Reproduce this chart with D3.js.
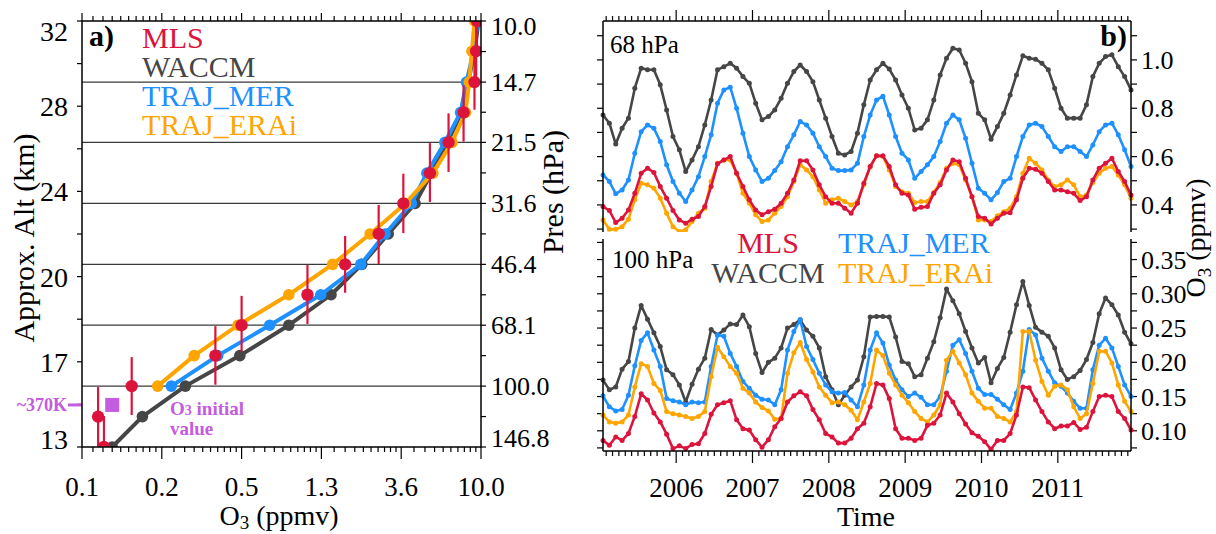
<!DOCTYPE html>
<html>
<head>
<meta charset="utf-8">
<script src="https://cdn.jsdelivr.net/npm/d3@7"></script>
<style>
  body { margin: 0; background: #fff; }
  svg { display: block; font-family: "Liberation Serif", "Times New Roman", serif; }
</style>
</head>
<body>
<div id="chart"></div>
<script>
// ---------------- data ----------------
const seriesKeys = ['MLS', 'WACCM', 'TRAJ_MER', 'TRAJ_ERAi'];
const seriesColor = { MLS: '#dc143c', WACCM: '#464646', TRAJ_MER: '#1e90ff', TRAJ_ERAi: '#ffa500' };

// panel a : ozone profile vs pressure
const ozTicks    = [0.1, 0.2, 0.5, 1.3, 3.6, 10.0];
const presTicks  = [10.0, 14.7, 21.5, 31.6, 46.4, 68.1, 100.0, 146.8];
const altLabels  = [32, 28, 24, 20, 17, 13];
const presLevels = [10.0, 12.1, 14.7, 17.8, 21.5, 26.1, 31.6, 38.3, 46.4, 56.2, 68.1, 82.5, 100.0, 121.2, 146.8];
const profMLS    = [9.5, 9.4, 9.2, 8.0, 6.6, 5.2, 3.7, 2.7, 1.76, 1.10, 0.50, 0.37, 0.154, 0.115, 0.121];
const profWACCM  = [9.7, 9.2, 8.5, 7.8, 6.5, 5.3, 4.3, 3.05, 2.18, 1.47, 0.88, 0.49, 0.262, 0.169, 0.130];
const profMER    = [9.6, 9.1, 8.3, 7.7, 6.3, 5.0, 4.1, 2.93, 2.15, 1.29, 0.70, 0.38, 0.223];
const profERAi   = [9.2, 8.9, 8.6, 8.2, 6.9, 5.4, 3.8, 2.42, 1.50, 0.88, 0.48, 0.29, 0.193];
// MLS vertical extent (hPa) drawn as bars
const mlsBarTop  = [8.3, 10.25, 12.4, 15.0, 17.9, 21.6, 26.2, 31.9, 38.8, 46.6, 56.6, 68.5, 83.3, 100.6, 120.8];
const mlsBarBot  = [12.0, 14.3, 17.5, 21.4, 25.9, 31.3, 38.1, 46.3, 55.5, 67.6, 80.4, 99.1, 120.0, 146.0, 175.0];
const initValue  = 0.13;   // ppmv
const initPres   = 112.6;  // hPa (~370K)

// panel b : monthly time series 2005-2011
const startYear  = 2005;
const yearTicks  = [2006, 2007, 2008, 2009, 2010, 2011];
const mls68 = [0.393,0.377,0.327,0.345,0.379,0.448,0.531,0.552,0.534,0.476,0.428,0.377,
  0.338,0.324,0.341,0.352,0.393,0.476,0.570,0.586,0.600,0.531,0.476,0.421,
  0.379,0.359,0.372,0.382,0.407,0.448,0.503,0.583,0.583,0.545,0.483,0.434,
  0.407,0.407,0.386,0.366,0.407,0.490,0.559,0.603,0.603,0.559,0.483,0.448,
  0.441,0.382,0.390,0.393,0.448,0.483,0.545,0.586,0.579,0.510,0.434,0.352,
  0.345,0.321,0.345,0.366,0.368,0.421,0.510,0.552,0.548,0.531,0.497,0.462,
  0.462,0.455,0.448,0.418,0.434,0.503,0.552,0.572,0.593,0.538,0.497,0.441];
const waccm68 = [0.772,0.738,0.652,0.717,0.759,0.883,0.966,0.959,0.959,0.897,0.793,0.683,
  0.628,0.538,0.586,0.641,0.731,0.834,0.959,0.972,0.986,0.966,0.931,0.903,
  0.821,0.752,0.766,0.793,0.841,0.903,0.952,0.979,0.952,0.910,0.834,0.759,
  0.683,0.614,0.607,0.621,0.697,0.814,0.917,0.959,0.986,0.962,0.917,0.855,
  0.800,0.710,0.717,0.752,0.834,0.938,1.007,1.048,1.041,0.986,0.910,0.779,
  0.752,0.672,0.724,0.779,0.855,0.938,1.017,1.007,1.003,0.986,0.959,0.883,
  0.800,0.759,0.759,0.759,0.814,0.931,0.986,1.014,1.021,0.972,0.931,0.876];
const mer68 = [0.524,0.497,0.446,0.462,0.503,0.614,0.703,0.731,0.717,0.662,0.566,0.497,
  0.448,0.414,0.462,0.517,0.600,0.690,0.821,0.876,0.887,0.800,0.697,0.600,
  0.545,0.497,0.510,0.542,0.579,0.641,0.690,0.745,0.731,0.697,0.641,0.600,
  0.552,0.542,0.542,0.545,0.572,0.683,0.772,0.834,0.850,0.772,0.683,0.614,
  0.586,0.510,0.538,0.566,0.600,0.662,0.738,0.772,0.752,0.676,0.572,0.469,
  0.448,0.421,0.451,0.497,0.510,0.600,0.683,0.731,0.738,0.724,0.683,0.641,
  0.621,0.641,0.641,0.621,0.600,0.648,0.703,0.731,0.738,0.690,0.628,0.559];
const erai68 = [0.338,0.299,0.299,0.310,0.341,0.421,0.490,0.483,0.469,0.428,0.366,0.310,
  0.290,0.297,0.331,0.366,0.386,0.497,0.572,0.586,0.586,0.531,0.448,0.407,
  0.359,0.331,0.338,0.366,0.393,0.434,0.497,0.566,0.545,0.517,0.462,0.407,
  0.421,0.428,0.414,0.400,0.414,0.483,0.559,0.603,0.600,0.545,0.476,0.455,
  0.448,0.410,0.414,0.414,0.451,0.493,0.552,0.572,0.566,0.503,0.434,0.338,
  0.338,0.331,0.355,0.372,0.386,0.434,0.531,0.593,0.572,0.545,0.503,0.476,
  0.483,0.503,0.483,0.434,0.441,0.493,0.531,0.552,0.559,0.524,0.483,0.428];
const mls100 = [0.086,0.079,0.091,0.086,0.096,0.121,0.154,0.145,0.126,0.113,0.095,0.074,
  0.078,0.074,0.080,0.081,0.096,0.124,0.138,0.141,0.144,0.116,0.103,0.101,
  0.087,0.076,0.087,0.106,0.118,0.142,0.151,0.157,0.151,0.131,0.116,0.096,
  0.091,0.082,0.082,0.089,0.103,0.111,0.135,0.169,0.167,0.147,0.103,0.089,
  0.089,0.086,0.089,0.108,0.111,0.123,0.155,0.142,0.125,0.110,0.097,0.092,
  0.084,0.073,0.086,0.086,0.096,0.123,0.164,0.163,0.145,0.128,0.113,0.103,
  0.107,0.107,0.112,0.102,0.105,0.128,0.150,0.152,0.150,0.128,0.118,0.101];
const waccm100 = [0.174,0.160,0.164,0.190,0.201,0.250,0.283,0.263,0.243,0.223,0.189,0.182,
  0.167,0.142,0.168,0.190,0.206,0.248,0.240,0.247,0.256,0.255,0.269,0.252,
  0.213,0.185,0.200,0.206,0.221,0.250,0.255,0.262,0.247,0.238,0.221,0.179,
  0.160,0.138,0.152,0.164,0.174,0.208,0.266,0.267,0.267,0.266,0.237,0.201,
  0.198,0.179,0.182,0.206,0.230,0.265,0.307,0.290,0.271,0.245,0.221,0.199,
  0.207,0.170,0.191,0.207,0.244,0.284,0.318,0.283,0.251,0.244,0.238,0.221,
  0.189,0.175,0.179,0.188,0.204,0.229,0.271,0.294,0.284,0.269,0.244,0.227];
const mer100 = [0.151,0.135,0.129,0.131,0.152,0.195,0.232,0.243,0.218,0.194,0.147,0.144,
  0.142,0.138,0.142,0.141,0.142,0.194,0.240,0.238,0.213,0.194,0.172,0.162,
  0.152,0.146,0.145,0.138,0.160,0.218,0.245,0.262,0.223,0.204,0.184,0.167,
  0.157,0.155,0.156,0.145,0.135,0.167,0.218,0.243,0.228,0.196,0.174,0.160,
  0.150,0.155,0.149,0.138,0.138,0.150,0.187,0.225,0.233,0.213,0.187,0.162,
  0.153,0.153,0.146,0.138,0.131,0.155,0.187,0.248,0.240,0.206,0.187,0.170,
  0.165,0.155,0.143,0.133,0.133,0.189,0.225,0.235,0.221,0.194,0.167,0.150];
const erai100 = [0.123,0.113,0.111,0.113,0.123,0.164,0.198,0.194,0.169,0.159,0.128,0.125,
  0.123,0.121,0.118,0.121,0.128,0.179,0.222,0.208,0.194,0.184,0.162,0.155,
  0.142,0.134,0.129,0.117,0.118,0.184,0.214,0.229,0.204,0.186,0.164,0.152,
  0.141,0.142,0.138,0.130,0.116,0.142,0.169,0.218,0.210,0.184,0.167,0.152,
  0.141,0.128,0.118,0.113,0.123,0.138,0.203,0.216,0.199,0.182,0.155,0.143,
  0.133,0.133,0.121,0.118,0.113,0.128,0.245,0.245,0.203,0.172,0.152,0.165,
  0.167,0.160,0.135,0.118,0.125,0.169,0.216,0.216,0.199,0.167,0.143,0.128];
const upperTicks = [0.4, 0.6, 0.8, 1.0];
const lowerTicks = [0.10, 0.15, 0.20, 0.25, 0.30, 0.35];

// ---------------- layout ----------------
const W = 1216, H = 534;
const A = { left: 82, right: 481, top: 21, bottom: 447 };
const B = { left: 603, right: 1131, top: 21, midTop: 232, midBot: 239, bottom: 451 };
const violet = '#c45ce0';

const svg = d3.select('#chart').append('svg').attr('width', W).attr('height', H);

function txt(g, x, y, s, size, opts = {}) {
  return g.append('text').attr('x', x).attr('y', y).attr('font-size', size)
    .attr('text-anchor', opts.anchor || 'start')
    .attr('font-weight', opts.bold ? 'bold' : null)
    .attr('fill', opts.fill || '#000').text(s);
}
function tick(g, x1, y1, x2, y2) {
  g.append('line').attr('x1', x1).attr('y1', y1).attr('x2', x2).attr('y2', y2)
    .attr('stroke', '#000').attr('stroke-width', 1.2);
}

// ================= panel a =================
const gA = svg.append('g');
const x = d3.scaleLog().domain(ozTicks)
  .range(ozTicks.map((d, i) => A.left + i * (A.right - A.left) / (ozTicks.length - 1)));
const y = d3.scaleLog().domain([presTicks[0], presTicks[presTicks.length - 1]]).range([A.top, A.bottom]);
const yAlt = d3.scalePoint().domain(altLabels).range([A.top, A.bottom]);

// gridlines at pressure levels
presTicks.slice(1, -1).forEach(p => {
  gA.append('line').attr('x1', A.left).attr('x2', A.right).attr('y1', y(p)).attr('y2', y(p))
    .attr('stroke', '#3a3a3a').attr('stroke-width', 1.3);
});

// x ticks (bottom and top)
const ozMinor = [];
for (let i = 0; i < ozTicks.length - 1; i++) {
  const a = ozTicks[i], b = ozTicks[i + 1];
  for (let k = 1; k < 10; k++) ozMinor.push(a + k * (b - a) / 10);
}
ozMinor.forEach(v => { tick(gA, x(v), A.bottom, x(v), A.bottom + 5); tick(gA, x(v), A.top, x(v), A.top - 5); });
ozTicks.forEach(v => {
  tick(gA, x(v), A.bottom, x(v), A.bottom + 12); tick(gA, x(v), A.top, x(v), A.top - 8);
  txt(gA, x(v), 496, v.toFixed(1), 27, { anchor: 'middle' });
});

// left altitude axis
const altStep = yAlt.step();
altLabels.forEach((a, i) => {
  const yy = yAlt(a);
  tick(gA, A.left - 5, yy, A.left, yy);
  if (i < altLabels.length - 1) tick(gA, A.left - 5, yy + altStep / 2, A.left, yy + altStep / 2);
  const dy = i === 0 ? 10 : (i === altLabels.length - 1 ? -8 : 0);
  txt(gA, 68, yy + dy + 10, String(a), 28, { anchor: 'end' });
});

// right pressure axis
presTicks.forEach((p, i) => {
  tick(gA, A.right, y(p), A.right + 5, y(p));
  if (i < presTicks.length - 1) {
    const m = Math.sqrt(p * presTicks[i + 1]);
    tick(gA, A.right, y(m), A.right + 5, y(m));
  }
  const dy = i === 0 ? 5 : (i === presTicks.length - 1 ? -9 : 0);
  txt(gA, 491, y(p) + dy + 9, p.toFixed(1), 26);
});

// series
svg.append('clipPath').attr('id', 'clipA').append('rect')
  .attr('x', A.left).attr('y', A.top).attr('width', A.right - A.left).attr('height', A.bottom - A.top);
const gS = gA.append('g').attr('clip-path', 'url(#clipA)');
const lineA = d3.line().x(d => x(d.v)).y(d => y(d.p));
function profile(vals, key) {
  const pts = vals.map((v, i) => ({ v, p: presLevels[i] }));
  gS.append('path').datum(pts).attr('d', lineA).attr('fill', 'none')
    .attr('stroke', seriesColor[key]).attr('stroke-width', 4).attr('stroke-linejoin', 'round');
  gS.selectAll(null).data(pts).join('circle')
    .attr('cx', d => x(d.v)).attr('cy', d => y(d.p)).attr('r', 5.8).attr('fill', seriesColor[key]);
}
profile(profWACCM, 'WACCM');
profile(profMER, 'TRAJ_MER');
profile(profERAi, 'TRAJ_ERAi');
const mlsPts = profMLS.map((v, i) => ({ v, p: presLevels[i], t: mlsBarTop[i], b: mlsBarBot[i] }));
gS.selectAll(null).data(mlsPts).join('line')
  .attr('x1', d => x(d.v)).attr('x2', d => x(d.v)).attr('y1', d => y(d.t)).attr('y2', d => y(d.b))
  .attr('stroke', seriesColor.MLS).attr('stroke-width', 2.2);
gS.selectAll(null).data(mlsPts).join('circle')
  .attr('cx', d => x(d.v)).attr('cy', d => y(d.p)).attr('r', 6.2).attr('fill', seriesColor.MLS);

// initial value marker
gA.append('rect').attr('x', x(initValue) - 7).attr('y', y(initPres) - 7).attr('width', 14).attr('height', 14)
  .attr('fill', violet);
txt(gA, 67, y(initPres) + 6, '~370K', 18, { anchor: 'end', bold: true, fill: violet });
gA.append('line').attr('x1', 68).attr('x2', A.left).attr('y1', y(initPres)).attr('y2', y(initPres))
  .attr('stroke', violet).attr('stroke-width', 3);
const ini = txt(gA, 170, 415, 'O', 19, { bold: true, fill: violet });
ini.append('tspan').attr('font-size', 14).text('3');
ini.append('tspan').text(' initial');
txt(gA, 170, 435, 'value', 19, { bold: true, fill: violet });

// frame
gA.append('rect').attr('x', A.left).attr('y', A.top).attr('width', A.right - A.left).attr('height', A.bottom - A.top)
  .attr('fill', 'none').attr('stroke', '#000').attr('stroke-width', 1.5);

// labels & legend
txt(gA, 89, 46, 'a)', 30, { bold: true });
[['MLS', 48], ['WACCM', 77], ['TRAJ_MER', 106], ['TRAJ_ERAi', 135]].forEach(([k, yy]) =>
  txt(gA, 142, yy, k, 30, { fill: seriesColor[k] }));
txt(gA, 0, 0, 'Approx. Alt (km)', 30, { anchor: 'middle' })
  .attr('transform', `translate(34,${(A.top + A.bottom) / 2 + 4}) rotate(-90)`);
txt(gA, 0, 0, 'Pres (hPa)', 30, { anchor: 'middle' })
  .attr('transform', `translate(563,192) rotate(-90)`);
const xt = txt(gA, 279, 525, 'O', 28, { anchor: 'middle' });
xt.append('tspan').attr('font-size', 19).attr('dy', 4).text('3');
xt.append('tspan').attr('dy', -4).text(' (ppmv)');

// ================= panel b =================
const gB = svg.append('g');
const months = d3.range(mls68.length).map(i => startYear + (i + 0.5) / 12);
const xT = d3.scaleLinear().domain([months[0], months[months.length - 1]]).range([B.left, B.right]);
const yU = d3.scaleLinear().domain([0.288, 1.161]).range([B.midTop, B.top]);
const yL = d3.scaleLinear().domain([0.0705, 0.380]).range([B.bottom, B.midBot]);

// time ticks
d3.range(startYear * 12 + 1, (startYear + 7) * 12).map(m => m / 12)
  .filter(t => t >= months[0] && t <= months[months.length - 1])
  .forEach(t => {
    const major = Math.abs(t - Math.round(t)) < 1e-6;
    tick(gB, xT(t), B.top, xT(t), B.top - (major ? 11 : 5));
    tick(gB, xT(t), B.bottom, xT(t), B.bottom + (major ? 12 : 5));
  });
yearTicks.forEach(yr => txt(gB, xT(yr), 497, String(yr), 27, { anchor: 'middle' }));

// value ticks
function valueAxis(scale, lo, hi, step, labels, fmt) {
  const n = Math.round((hi - lo) / step);
  d3.range(n + 1).map(i => lo + i * step).forEach(v => {
    tick(gB, B.left - 6, scale(v), B.left, scale(v));
    tick(gB, B.right, scale(v), B.right + 6, scale(v));
  });
  labels.forEach(v => txt(gB, B.right + 10, scale(v) + 9, fmt(v), 26));
}
valueAxis(yU, 0.3, 1.1, 0.1, upperTicks, d3.format('.1f'));
valueAxis(yL, 0.075, 0.375, 0.025, lowerTicks, d3.format('.2f'));

// series
svg.append('clipPath').attr('id', 'clipU').append('rect')
  .attr('x', B.left - 4).attr('y', B.top).attr('width', B.right - B.left + 8).attr('height', B.midTop - B.top);
svg.append('clipPath').attr('id', 'clipL').append('rect')
  .attr('x', B.left - 4).attr('y', B.midBot).attr('width', B.right - B.left + 8).attr('height', B.bottom - B.midBot);
function series(vals, key, ys, clip) {
  const g = gB.append('g').attr('clip-path', `url(#${clip})`);
  const pts = vals.map((v, i) => [xT(months[i]), ys(v)]);
  g.append('path').attr('d', d3.line()(pts)).attr('fill', 'none').attr('stroke', seriesColor[key])
    .attr('stroke-width', 2.6).attr('stroke-linejoin', 'round');
  g.selectAll(null).data(pts).join('circle').attr('cx', d => d[0]).attr('cy', d => d[1])
    .attr('r', 2.5).attr('fill', seriesColor[key]);
}
series(waccm68, 'WACCM', yU, 'clipU');
series(mer68, 'TRAJ_MER', yU, 'clipU');
series(erai68, 'TRAJ_ERAi', yU, 'clipU');
series(mls68, 'MLS', yU, 'clipU');
series(waccm100, 'WACCM', yL, 'clipL');
series(mer100, 'TRAJ_MER', yL, 'clipL');
series(erai100, 'TRAJ_ERAi', yL, 'clipL');
series(mls100, 'MLS', yL, 'clipL');

// frame pieces
const fr = (x1, y1, x2, y2) => gB.append('line').attr('x1', x1).attr('y1', y1).attr('x2', x2).attr('y2', y2)
  .attr('stroke', '#000').attr('stroke-width', 1.5);
fr(B.left, B.top, B.right, B.top);
fr(B.left, B.bottom, B.right, B.bottom);
fr(B.left, B.top, B.left, B.midTop); fr(B.right, B.top, B.right, B.midTop);
fr(B.left, B.midBot, B.left, B.bottom); fr(B.right, B.midBot, B.right, B.bottom);

// texts
txt(gB, 1127, 46, 'b)', 30, { anchor: 'end', bold: true });
txt(gB, 610, 53, '68 hPa', 25);
txt(gB, 612, 268, '100 hPa', 25);
txt(gB, 768, 253, 'MLS', 30, { anchor: 'middle', fill: seriesColor.MLS });
txt(gB, 768, 283, 'WACCM', 30, { anchor: 'middle', fill: seriesColor.WACCM });
txt(gB, 838, 253, 'TRAJ_MER', 30, { fill: seriesColor.TRAJ_MER });
txt(gB, 838, 283, 'TRAJ_ERAi', 30, { fill: seriesColor.TRAJ_ERAi });
txt(gB, 866, 526, 'Time', 28, { anchor: 'middle' });
const yt = txt(gB, 0, 0, 'O', 28, { anchor: 'middle' }).attr('transform', 'translate(1205,238) rotate(-90)');
yt.append('tspan').attr('font-size', 19).attr('dy', 6).text('3');
yt.append('tspan').attr('dy', -6).text(' (ppmv)');
</script>
</body>
</html>
